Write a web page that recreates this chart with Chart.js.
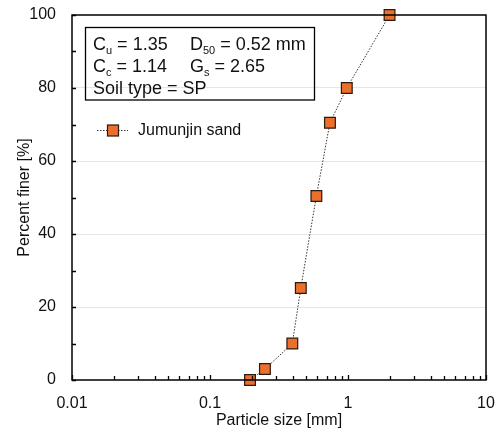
<!DOCTYPE html>
<html>
<head>
<meta charset="utf-8">
<script src="https://cdn.jsdelivr.net/npm/chart.js@4/dist/chart.umd.min.js"></script>
<style>
  html, body { margin: 0; padding: 0; background: #fff; }
  #wrap { width: 502px; height: 430px; }
</style>
</head>
<body>
<div id="wrap"><canvas id="grafico" width="502" height="430"></canvas></div>
<script>
// datos
const tamanos = [0.195, 0.25, 0.395, 0.455, 0.59, 0.74, 0.98, 2.0];
const pasante = [0, 3, 10, 25.2, 50.4, 70.5, 80, 100];
const nombreSerie = 'Jumunjin sand';
const ticksX = [0.01, 0.1, 1, 10];
const ticksY = [0, 20, 40, 60, 80, 100];
const lineasCaja = [
  [['C', 'u', ' = 1.35'], ['D', '50', ' = 0.52 mm']],
  [['C', 'c', ' = 1.14'], ['G', 's', ' = 2.65']],
  [['Soil type = SP', '', '']]
];

const fuente = "'Liberation Sans', Arial, sans-serif";
const naranja = '#EC6F2D';
const borde = '#2a1a10';

const puntos = tamanos.map((x, i) => ({ x: x, y: pasante[i] }));

// dibuja marco, ticks internos, cuadro de texto y leyenda
const extras = {
  id: 'extras',
  afterDraw(chart) {
    const ctx = chart.ctx;
    const a = chart.chartArea;
    const sx = chart.scales.x;
    const sy = chart.scales.y;
    ctx.save();
    ctx.strokeStyle = '#000';
    ctx.lineWidth = 1.3;

    // ticks menores eje x
    ctx.beginPath();
    for (let d = 0.01; d < 10; d *= 10) {
      for (let k = 1; k <= 10; k++) {
        const v = d * k;
        const px = Math.round(sx.getPixelForValue(v)) + 0.5;
        const len = (k === 1 || k === 10) ? 5 : 4;
        ctx.moveTo(px, a.bottom);
        ctx.lineTo(px, a.bottom - len);
      }
    }
    // ticks eje y
    for (let v = 0; v <= 100; v += 10) {
      const py = Math.round(sy.getPixelForValue(v)) + 0.5;
      ctx.moveTo(a.left, py);
      ctx.lineTo(a.left + 4, py);
    }
    ctx.stroke();

    // marco
    ctx.lineWidth = 1.5;
    ctx.strokeRect(a.left, a.top, a.right - a.left, a.bottom - a.top);

    // cuadro de texto
    ctx.lineWidth = 1.3;
    ctx.strokeRect(85.5, 27.5, 229, 72.5);
    ctx.fillStyle = '#111';
    ctx.textBaseline = 'alphabetic';
    const cols = [93, 190];
    lineasCaja.forEach((linea, i) => {
      const base = 49.5 + i * 22;
      linea.forEach((parte, j) => {
        let x = cols[j];
        ctx.font = '18px ' + fuente;
        ctx.fillText(parte[0], x, base);
        x += ctx.measureText(parte[0]).width;
        if (parte[1]) {
          ctx.font = '11px ' + fuente;
          ctx.fillText(parte[1], x, base + 4);
          x += ctx.measureText(parte[1]).width;
        }
        ctx.font = '18px ' + fuente;
        ctx.fillText(parte[2], x, base);
      });
    });

    // leyenda
    const ly = 130.5;
    ctx.strokeStyle = '#333';
    ctx.lineWidth = 1;
    ctx.setLineDash([1.5, 1.5]);
    ctx.beginPath();
    ctx.moveTo(97, ly);
    ctx.lineTo(128, ly);
    ctx.stroke();
    ctx.setLineDash([]);
    ctx.fillStyle = naranja;
    ctx.strokeStyle = borde;
    ctx.lineWidth = 1.2;
    ctx.fillRect(107.5, ly - 5.5, 11, 11);
    ctx.strokeRect(107.5, ly - 5.5, 11, 11);
    ctx.fillStyle = '#111';
    ctx.font = '16px ' + fuente;
    ctx.textBaseline = 'middle';
    ctx.fillText(nombreSerie, 138, ly);
    ctx.restore();
  }
};

new Chart(document.getElementById('grafico'), {
  type: 'scatter',
  data: {
    datasets: [{
      label: nombreSerie,
      data: puntos,
      showLine: true,
      borderColor: '#333',
      borderWidth: 1,
      borderDash: [1.5, 1.5],
      pointStyle: 'rect',
      pointRadius: 7.6,
      pointHoverRadius: 7.6,
      pointBackgroundColor: naranja,
      pointBorderColor: borde,
      pointBorderWidth: 1.2,
      clip: false
    }]
  },
  options: {
    responsive: false,
    animation: false,
    events: [],
    layout: { padding: { top: 15, right: 16, left: 0, bottom: 0 } },
    plugins: {
      legend: { display: false },
      tooltip: { enabled: false }
    },
    scales: {
      x: {
        type: 'logarithmic',
        min: 0.01,
        max: 10,
        afterBuildTicks: (s) => { s.ticks = ticksX.map(v => ({ value: v })); },
        afterFit: (s) => { s.height = 50; s.paddingLeft = 0; s.paddingRight = 0; },
        grid: { display: false, drawTicks: false },
        border: { display: false },
        ticks: {
          color: '#111',
          font: { size: 16, family: fuente },
          padding: 14,
          maxRotation: 0,
          callback: (v) => String(v)
        },
        title: {
          display: true,
          text: 'Particle size [mm]',
          color: '#111',
          font: { size: 16, family: fuente },
          padding: { top: 0, bottom: 0 }
        }
      },
      y: {
        min: 0,
        max: 100,
        afterBuildTicks: (s) => { s.ticks = ticksY.map(v => ({ value: v })); },
        afterFit: (s) => { s.width = 72; s.paddingTop = 0; s.paddingBottom = 0; },
        grid: {
          drawTicks: false,
          color: (c) => (c.tick.value === 0 || c.tick.value === 100) ? 'rgba(0,0,0,0)' : '#e6e6e6',
          lineWidth: 1
        },
        border: { display: false },
        ticks: {
          color: '#111',
          font: { size: 16, family: fuente },
          padding: 16
        },
        title: {
          display: true,
          text: 'Percent finer [%]',
          color: '#111',
          font: { size: 16, family: fuente },
          padding: { top: 15, bottom: 0 }
        }
      }
    }
  },
  plugins: [extras]
});
</script>
</body>
</html>
